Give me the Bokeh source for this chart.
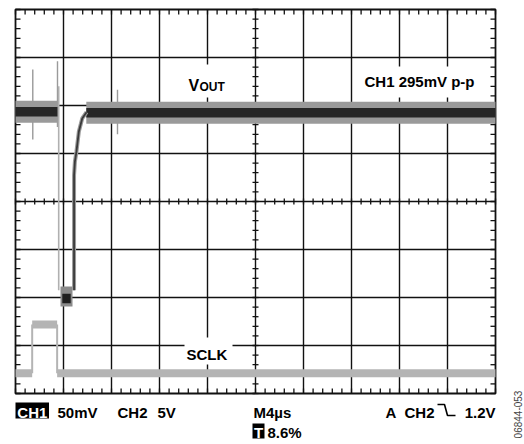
import numpy as np
from bokeh.plotting import figure
from bokeh.models import Range1d, Label
from bokeh.embed import file_html
from bokeh.resources import INLINE

# ------------------------------------------------------------------ data
US_PER_DIV = 4.0            # M4µs  (time base)
X_DIVS, Y_DIVS = 10, 8      # screen divisions
MINOR_PER_DIV = 5

# VOUT (CH1, 50 mV/div): settled noisy band, level in divisions from centre
vout_seg_start = [0.0, 5.90]
vout_seg_end = [3.50, 40.0]
vout_seg_level = [1.87, 1.85]
vout_core_half = 0.10
vout_halo_half = 0.23

# narrow spikes on VOUT (µs, top div, bottom div)
spike_t = [1.44, 3.50, 8.50]
spike_top = [2.75, 2.92, 2.33]
spike_bot = [1.29, 1.55, 1.40]

# glitch caused by the SCLK edge
drop_t = [3.60, 3.60]
drop_y = [2.40, -1.85]
blob_t = [3.75, 4.75]
blob_y = [-2.19, -1.77]
blob_core_t = [3.90, 4.60]
blob_core_y = [-2.12, -1.92]
recov_t = [4.88, 4.88, 4.95, 5.08, 5.28, 5.56, 5.92]
recov_y = [-1.85, 0.55, 0.83, 1.04, 1.46, 1.73, 1.86]

# SCLK (CH2, 5 V/div)
sclk_start = [0.0, 1.39, 3.47]
sclk_end = [1.39, 3.47, 40.0]
sclk_level = [-3.58, -2.56, -3.58]
sclk_edge_t = [1.39, 3.47]
sclk_low, sclk_high = -3.58, -2.56

# ------------------------------------------------------------------ geometry
PX = 48.0                        # pixels per division
PX_T = US_PER_DIV / PX           # µs per pixel
PX_Y = 1.0 / PX                  # div per pixel
W, H = 524, 444
LEFT_PX, CENTRE_PY = 15, 201     # screen left edge / centre line in page pixels
X0 = -LEFT_PX * PX_T
Y1 = CENTRE_PY * PX_Y
T_END = X_DIVS * US_PER_DIV
Y_TOP, Y_BOT = Y_DIVS / 2, -Y_DIVS / 2


def tx(px):   # page pixel -> µs
    return (px - LEFT_PX) * PX_T


def ty(py):   # page pixel -> div
    return (CENTRE_PY - py) * PX_Y


p = figure(width=W, height=H, x_range=Range1d(X0, X0 + W * PX_T),
           y_range=Range1d(Y1 - H * PX_Y, Y1), output_backend="svg",
           toolbar_location=None, tools="", x_axis_location=None,
           y_axis_location=None, min_border=0)
p.grid.visible = False
p.outline_line_color = None
p.background_fill_color = "white"
p.border_fill_color = "white"

GRID = "#111111"
# major grid
xm = [i * US_PER_DIV for i in range(1, X_DIVS)]
ym = [j for j in range(-Y_DIVS // 2 + 1, Y_DIVS // 2)]
p.segment(xm, [Y_BOT] * len(xm), xm, [Y_TOP] * len(xm), line_color=GRID, line_width=1.4)
p.segment([0] * len(ym), ym, [T_END] * len(ym), ym, line_color=GRID, line_width=1.4)
# border
p.quad(left=[0], right=[T_END], bottom=[Y_BOT], top=[Y_TOP], fill_color=None,
       line_color=GRID, line_width=1.8)

# minor ticks
mx = np.arange(0, T_END + 1e-9, US_PER_DIV / MINOR_PER_DIV)
my = np.arange(Y_BOT, Y_TOP + 1e-9, 1.0 / MINOR_PER_DIV)
L = 5
C = 3
p.segment(mx, Y_TOP, mx, Y_TOP - L * PX_Y, line_color=GRID, line_width=1.3)
p.segment(mx, Y_BOT, mx, Y_BOT + L * PX_Y, line_color=GRID, line_width=1.3)
p.segment(mx, -C * PX_Y, mx, C * PX_Y, line_color=GRID, line_width=1.3)
p.segment(0, my, L * PX_T, my, line_color=GRID, line_width=1.3)
p.segment(T_END, my, T_END - L * PX_T, my, line_color=GRID, line_width=1.3)
xc = T_END / 2
p.segment(xc - C * PX_T, my, xc + C * PX_T, my, line_color=GRID, line_width=1.3)

# white backgrounds behind on-screen labels
p.quad(left=[tx(185), tx(359), tx(184)], right=[tx(231), tx(485), tx(232)],
       top=[ty(64), ty(66), ty(337)], bottom=[ty(97), ty(97), ty(364)],
       fill_color="white", line_color=None)

# SCLK trace
p.segment(sclk_start, sclk_level, sclk_end, sclk_level, line_color="#b4b4b4",
          line_width=8, line_cap="butt")
p.segment(sclk_edge_t, [sclk_low] * 2, sclk_edge_t, [sclk_high] * 2,
          line_color="#b4b4b4", line_width=2)

# VOUT trace
HALO, CORE = "#9a9a9a", "#262626"
p.segment(spike_t, spike_bot, spike_t, spike_top, line_color="#9a9a9a", line_width=1.4)
for s, e, lv in zip(vout_seg_start, vout_seg_end, vout_seg_level):
    p.varea(x=[s, e], y1=[lv - vout_halo_half] * 2, y2=[lv + vout_halo_half] * 2,
            fill_color=HALO)
for s, e, lv in zip(vout_seg_start, vout_seg_end, vout_seg_level):
    p.varea(x=[s, e], y1=[lv - vout_core_half] * 2, y2=[lv + vout_core_half] * 2,
            fill_color=CORE)
p.line(drop_t, drop_y, line_color="#b0b0b0", line_width=1.6)
p.quad(left=[blob_t[0]], right=[blob_t[1]], bottom=[blob_y[0]], top=[blob_y[1]],
       fill_color="#8a8a8a", line_color=None)
p.quad(left=[blob_core_t[0]], right=[blob_core_t[1]], bottom=[blob_core_y[0]],
       top=[blob_core_y[1]], fill_color="#1e1e1e", line_color=None)
p.line(recov_t, recov_y, line_color="#9a9a9a", line_width=4)
p.line(recov_t, recov_y, line_color="#3a3a3a", line_width=1.8)

# black boxes (CH1 and T tags)
p.quad(left=[tx(15), tx(252)], right=[tx(48.5), tx(264)], top=[ty(402), ty(423)],
       bottom=[ty(418), ty(438)], fill_color="black", line_color=None)

# falling-edge trigger symbol
p.line([tx(437), tx(444), tx(447), tx(455)], [ty(404), ty(404), ty(415), ty(415)],
       line_color="black", line_width=1.6)

FONT = "Liberation Sans"
TEXT_DY = -4   # renderer places alphabetic baselines a little low


def lab(text, px, py, size="15px", color="black", align="left", style="bold",
        angle=0.0, baseline="alphabetic"):
    dy = TEXT_DY if baseline == "alphabetic" else 0
    p.add_layout(Label(x=tx(px), y=ty(py + dy), text=text, text_font=FONT,
                       text_font_size=size, text_font_style=style, text_color=color,
                       text_align=align, text_baseline=baseline, angle=angle))


lab("V", 188, 89, size="16px")
lab("OUT", 199, 90, size="12px")
lab("CH1 295mV p-p", 364, 85)
lab("SCLK", 186, 357.5)
lab("CH1", 31.8, 416, color="white", align="center")
lab("50mV", 57, 415.7)
lab("CH2", 117, 415.7)
lab("5V", 157, 415.7)
lab("M4µs", 253, 415.7)
lab("A", 385, 415.7)
lab("CH2", 404, 415.7)
lab("1.2V", 495, 415.7, align="right")
lab("T", 258, 436, color="white", align="center")
lab("8.6%", 267, 435.7)
lab("06844-053", 517, 414, size="10px", color="#444444", style="normal",
    angle=np.pi / 2, align="center", baseline="middle")

open("out.html", "w").write(file_html(p, INLINE))
